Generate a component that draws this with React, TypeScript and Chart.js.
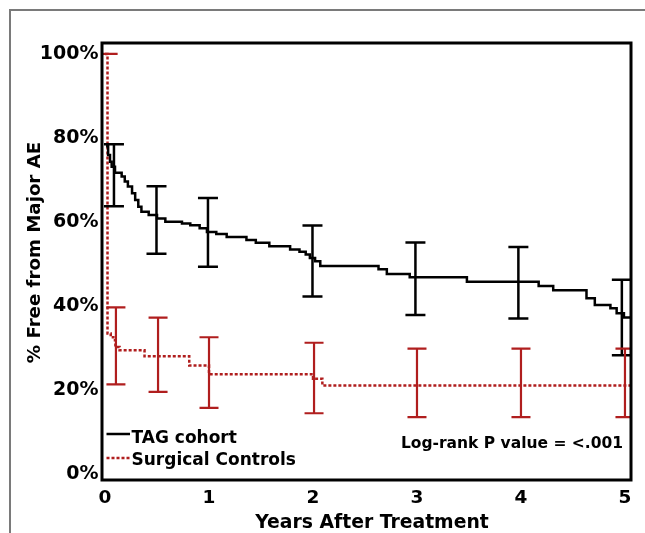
import React, { useEffect, useRef } from "react";
import { Chart, registerables } from "chart.js";

Chart.register(...registerables);

// ---- data ----
const xTickValues = [0, 1, 2, 3, 4, 5];
const yTickValues = [0, 20, 40, 60, 80, 100];

const seriesNames = ["TAG cohort", "Surgical Controls"];

// TAG cohort Kaplan-Meier steps (time in years, % free)
const tagTimes = [0.01, 0.03, 0.048, 0.064, 0.096, 0.16, 0.19, 0.22, 0.26, 0.29, 0.32, 0.35, 0.42, 0.5, 0.58, 0.74, 0.82, 0.91, 0.98, 1.07, 1.17, 1.36, 1.45, 1.58, 1.78, 1.87, 1.93, 1.97, 2.02, 2.07, 2.63, 2.71, 2.93, 3.48, 4.17, 4.31, 4.63, 4.71, 4.86, 4.92, 4.99, 5.06];
const tagSurvival = [78, 75.9, 74.3, 73.1, 71.7, 70.8, 69.6, 68.4, 66.8, 65.2, 63.6, 62.4, 61.6, 60.8, 60.0, 59.6, 59.2, 58.5, 57.6, 57.1, 56.4, 55.7, 55.0, 54.2, 53.4, 52.9, 52.2, 51.4, 50.6, 49.5, 48.7, 47.6, 46.8, 45.7, 44.7, 43.7, 41.8, 40.2, 39.4, 38.2, 37.2, 37.2];

// Surgical controls Kaplan-Meier steps
const ctrlTimes = [0, 0.024, 0.055, 0.08, 0.1, 0.14, 0.38, 0.81, 1.0, 2.0, 2.09, 5.06];
const ctrlSurvival = [100, 33.4, 32.5, 31.8, 30.2, 29.4, 28.0, 25.8, 23.7, 22.6, 21.0, 21.0];

// Confidence interval bars
const tagBarX = [0.086, 0.495, 0.99, 1.995, 2.985, 3.975, 4.97];
const tagBarLow = [63.7, 52.4, 49.3, 42.2, 37.8, 37.0, 28.2];
const tagBarHigh = [78.5, 68.5, 65.7, 59.1, 55.1, 54.0, 46.2];

const ctrlBarX = [0.03, 0.105, 0.51, 1.0, 2.01, 3.0, 4.0, 5.0];
const ctrlBarLow = [100, 21.3, 19.5, 15.7, 14.4, 13.5, 13.5, 13.5];
const ctrlBarHigh = [100, 39.6, 37.2, 32.5, 31.2, 29.8, 29.8, 29.8];

const xTitle = "Years After Treatment";
const yTitle = "% Free from Major AE";
const pValueText = "Log-rank P value = <.001";

// ---- styles ----
const FONT = '"DejaVu Sans", sans-serif';
const RED = "#b01e1e";
const BLACK = "#000000";

export default function App() {
  const canvasRef = useRef<HTMLCanvasElement | null>(null);

  useEffect(() => {
    const canvas = canvasRef.current;
    if (!canvas) return;

    const overlay = {
      id: "overlay",
      beforeDraw(chart: any) {
        const ctx = chart.ctx;
        ctx.save();
        ctx.fillStyle = "#ffffff";
        ctx.fillRect(0, 0, chart.width, chart.height);
        ctx.strokeStyle = "#7a7a7a";
        ctx.lineWidth = 2;
        ctx.beginPath();
        ctx.moveTo(10, chart.height);
        ctx.lineTo(10, 10);
        ctx.lineTo(chart.width, 10);
        ctx.stroke();
        ctx.restore();
      },
      afterDatasetsDraw(chart: any) {
        const ctx = chart.ctx;
        const a = chart.chartArea;
        const xs = chart.scales.x;
        const ys = chart.scales.y;

        const drawBars = (bx: number[], lo: number[], hi: number[], color: string, lw: number, half: number) => {
          ctx.strokeStyle = color;
          ctx.lineWidth = lw;
          ctx.setLineDash([]);
          for (let i = 0; i < bx.length; i++) {
            const px = xs.getPixelForValue(bx[i]);
            const pl = ys.getPixelForValue(lo[i]);
            const ph = ys.getPixelForValue(hi[i]);
            ctx.beginPath();
            ctx.moveTo(px, pl);
            ctx.lineTo(px, ph);
            ctx.moveTo(px - half, ph);
            ctx.lineTo(px + half, ph);
            ctx.moveTo(px - half, pl);
            ctx.lineTo(px + half, pl);
            ctx.stroke();
          }
        };

        ctx.save();
        ctx.beginPath();
        ctx.rect(a.left, a.top, a.right - a.left, a.bottom - a.top);
        ctx.clip();
        drawBars(tagBarX, tagBarLow, tagBarHigh, BLACK, 2.5, 10);
        drawBars(ctrlBarX, ctrlBarLow, ctrlBarHigh, RED, 2.2, 9.5);
        ctx.restore();

        // plot box
        ctx.save();
        ctx.strokeStyle = BLACK;
        ctx.lineWidth = 3;
        ctx.setLineDash([]);
        ctx.strokeRect(a.left, a.top, a.right - a.left, a.bottom - a.top);

        // legend
        ctx.lineWidth = 2.5;
        ctx.strokeStyle = BLACK;
        ctx.beginPath();
        ctx.moveTo(106.5, 434);
        ctx.lineTo(130, 434);
        ctx.stroke();
        ctx.strokeStyle = RED;
        ctx.setLineDash([3, 2]);
        ctx.beginPath();
        ctx.moveTo(106.5, 458);
        ctx.lineTo(130, 458);
        ctx.stroke();
        ctx.setLineDash([]);

        ctx.fillStyle = BLACK;
        ctx.font = `bold 17px ${FONT}`;
        ctx.textAlign = "left";
        ctx.textBaseline = "alphabetic";
        ctx.fillText(seriesNames[0], 131.5, 443);
        ctx.fillText(seriesNames[1], 131.5, 465);

        ctx.font = `bold 15.5px ${FONT}`;
        ctx.textAlign = "right";
        ctx.fillText(pValueText, 623, 448);

        // axis titles
        ctx.font = `bold 18.8px ${FONT}`;
        ctx.textAlign = "center";
        ctx.fillText(xTitle, 372, 528);

        ctx.save();
        ctx.translate(39.5, 252.5);
        ctx.rotate(-Math.PI / 2);
        ctx.font = `bold 18.2px ${FONT}`;
        ctx.fillText(yTitle, 0, 0);
        ctx.restore();

        ctx.restore();
      },
    };

    const chart = new Chart(canvas, {
      type: "line",
      data: {
        datasets: [
          {
            label: seriesNames[0],
            data: tagTimes.map((t, i) => ({ x: t, y: tagSurvival[i] })),
            borderColor: BLACK,
            borderWidth: 2.5,
            stepped: "before",
            pointRadius: 0,
            fill: false,
          },
          {
            label: seriesNames[1],
            data: ctrlTimes.map((t, i) => ({ x: t, y: ctrlSurvival[i] })),
            borderColor: RED,
            borderWidth: 2.5,
            borderDash: [3, 2],
            stepped: "before",
            pointRadius: 0,
            fill: false,
          },
        ],
      },
      options: {
        animation: false,
        responsive: false,
        devicePixelRatio: 1,
        layout: { padding: { left: 0, top: 43, right: 14, bottom: 0 } },
        plugins: {
          legend: { display: false },
          tooltip: { enabled: false },
        },
        scales: {
          x: {
            type: "linear",
            min: -0.029,
            max: 5.058,
            grid: { display: false, drawTicks: false },
            border: { display: false },
            afterBuildTicks: (scale: any) => {
              scale.ticks = xTickValues.map((v) => ({ value: v }));
            },
            afterFit: (scale: any) => {
              scale.height = 53;
            },
            ticks: {
              color: BLACK,
              padding: 7,
              maxRotation: 0,
              autoSkip: false,
              font: { family: FONT, size: 18.5, weight: "bold" },
              callback: (v: any) => String(v),
            },
          },
          y: {
            type: "linear",
            min: -1.5,
            max: 102.6,
            grid: { display: false, drawTicks: false },
            border: { display: false },
            afterBuildTicks: (scale: any) => {
              scale.ticks = yTickValues.map((v) => ({ value: v }));
            },
            afterFit: (scale: any) => {
              scale.width = 102;
            },
            ticks: {
              color: BLACK,
              padding: 3.5,
              autoSkip: false,
              font: { family: FONT, size: 19, weight: "bold" },
              callback: (v: any) => `${v}%`,
            },
          },
        },
      },
      plugins: [overlay],
    } as any);

    return () => chart.destroy();
  }, []);

  return (
    <div style={{ position: "absolute", left: 0, top: 0, width: 645, height: 533 }}>
      <canvas ref={canvasRef} width={645} height={533} style={{ display: "block", width: 645, height: 533 }} />
    </div>
  );
}
